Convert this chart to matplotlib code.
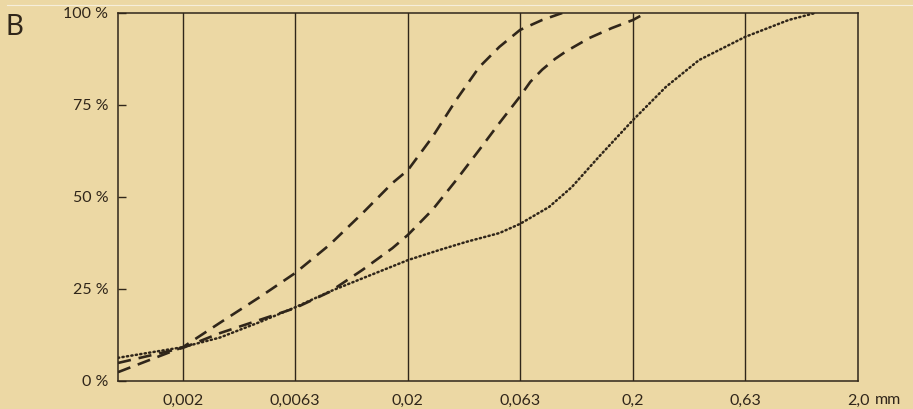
"""Korngrößenverteilung (Sieblinien) dreier Proben auf logarithmischer Achse."""

import matplotlib

matplotlib.use("Agg")
import matplotlib.pyplot as plt
from matplotlib.lines import Line2D

BG = "#ecd8a4"
INK = "#30261a"

# Korngrößen-Grenzen (mm) und Beschriftungen
grid_sizes = [0.002, 0.0063, 0.02, 0.063, 0.2, 0.63, 2.0]
grid_labels = ["0,002", "0,0063", "0,02", "0,063", "0,2", "0,63", "2,0"]
pct_ticks = [0, 25, 50, 75, 100]
pct_labels = ["0 %", "25 %", "50 %", "75 %", "100 %"]

# Probe 1 (Striche, steil)
size_a = [0.00103, 0.002, 0.00292, 0.00439, 0.0063, 0.00897, 0.01257, 0.01707,
          0.02, 0.0257, 0.0328, 0.0415, 0.051, 0.063, 0.079, 0.097]
pct_a = [2.4, 9.2, 15.8, 22.8, 29.3, 37.0, 45.6, 53.8,
         57.3, 66.3, 76.4, 85.3, 90.8, 95.4, 98.1, 100]

# Probe 2 (Striche, mittig)
size_b = [0.00103, 0.002, 0.00292, 0.00439, 0.0063, 0.00897, 0.01257, 0.01707,
          0.02, 0.0257, 0.0328, 0.0415, 0.051, 0.0624, 0.07, 0.079, 0.09,
          0.101, 0.128, 0.161, 0.2, 0.228]
pct_b = [4.9, 9.0, 13.0, 16.6, 19.8, 24.2, 30.2, 36.1,
         39.7, 46.5, 54.6, 62.8, 70.1, 77.0, 81.3, 84.6, 87.5,
         89.6, 93.2, 95.9, 98.1, 100]

# Probe 3 (gepunktet)
size_c = [0.00103, 0.002, 0.00292, 0.00439, 0.0063, 0.00897, 0.0201, 0.0276,
          0.0363, 0.051, 0.063, 0.0848, 0.107, 0.141, 0.2, 0.28, 0.393, 0.63,
          0.984, 1.29]
pct_c = [6.3, 9.2, 11.8, 16.0, 20.0, 24.3, 32.9, 35.6,
         37.8, 40.2, 42.7, 47.3, 52.7, 60.9, 70.9, 79.9, 87.2, 93.5,
         98.1, 100]

plt.rcParams["font.family"] = ["Lato", "DejaVu Sans"]

W, H = 913, 409
fig = plt.figure(figsize=(W / 100, H / 100), dpi=100, facecolor=BG)
ax = fig.add_axes([118 / W, 28 / H, 740 / W, 368 / H])
ax.set_facecolor(BG)

for s in grid_sizes[:-1]:
    ax.axvline(s, color=INK, lw=1.0, zorder=1)

dash = dict(color=INK, lw=1.9, dashes=(5, 3), dash_capstyle="butt", zorder=3)
ax.plot(size_a, pct_a, **dash)
ax.plot(size_b, pct_b, **dash)
ax.plot(size_c, pct_c, color=INK, lw=1.8, linestyle=(0, (0.5, 1.3)),
        dash_capstyle="round", zorder=3)

ax.set_xscale("log")
ax.set_xlim(0.00103, 2.0)
ax.set_ylim(0, 100)
ax.set_xticks(grid_sizes)
ax.set_xticklabels(grid_labels)
ax.minorticks_off()
ax.set_yticks(pct_ticks)
ax.set_yticklabels(pct_labels)
ax.tick_params(axis="x", length=0, pad=9, labelsize=11.5, colors=INK)
ax.tick_params(axis="y", direction="in", length=6, width=1.0, pad=7,
               labelsize=11.5, colors=INK)
for spine in ax.spines.values():
    spine.set_color(INK)
    spine.set_linewidth(1.1)

fig.text(875 / W, 1 - 400 / H, "mm", fontsize=11.5, color=INK, va="center", ha="left")
fig.text(6 / W, 1 - 35 / H, "B", fontsize=20, color=INK, va="baseline", ha="left")
fig.add_artist(Line2D([7 / W, 1], [1 - 4.5 / H] * 2, color="#f6eedb", lw=0.8))

fig.savefig("out.png", dpi=100, facecolor=BG)
